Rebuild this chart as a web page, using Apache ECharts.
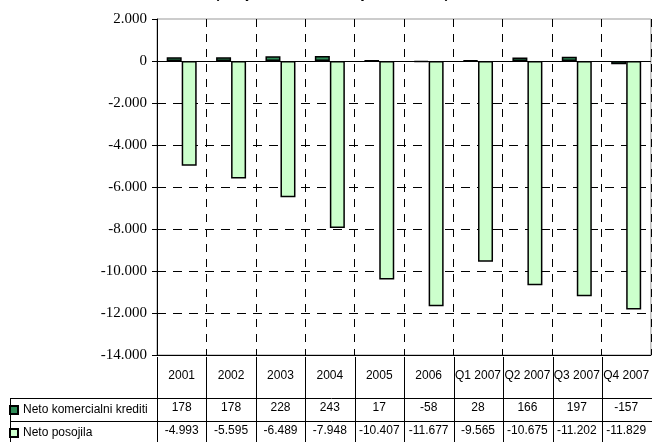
<!DOCTYPE html>
<html>
<head>
<meta charset="utf-8">
<script src="https://cdn.jsdelivr.net/npm/echarts@6/dist/echarts.min.js"></script>
<style>
html,body{margin:0;padding:0;background:#fff;}
#chart{width:652px;height:442px;}
</style>
</head>
<body>
<div id="chart"></div>
<script>
const categories = ['2001','2002','2003','2004','2005','2006','Q1 2007','Q2 2007','Q3 2007','Q4 2007'];
const seriesNames = ['Neto komercialni krediti','Neto posojila'];
const komercialni = [178, 178, 228, 243, 17, -58, 28, 166, 197, -157];
const posojila = [-4993, -5595, -6489, -7948, -10407, -11677, -9565, -10675, -11202, -11829];
const yTicks = {min: -14000, max: 2000, interval: 2000};
const titleText = '(stanje ob koncu obdobja, v mio EUR)';

function fmt(v) {
  const s = Math.abs(v).toString().replace(/\B(?=(\d{3})+(?!\d))/g, '.');
  return (v < 0 ? '-' : '') + s;
}

const chart = echarts.init(document.getElementById('chart'));
const sans = 'Liberation Sans, Arial, sans-serif';
const serif = 'Liberation Serif, Times New Roman, serif';

function legendFor(name, top) {
  return {
    orient: 'horizontal',
    left: 9,
    top: top,
    itemWidth: 8,
    itemHeight: 8,
    icon: 'rect',
    data: [name],
    padding: 0,
    textStyle: {fontFamily: sans, fontSize: 12, color: '#000', lineHeight: 14},
    selectedMode: false
  };
}

chart.setOption({
  animation: false,
  backgroundColor: '#fff',
  grid: [
    {left: 157, right: -3, top: 19, bottom: 85, show: true, borderColor: '#999', borderWidth: 1, backgroundColor: 'transparent'},
    {left: 157, right: -3, top: 357, bottom: -5}
  ],
  legend: [legendFor(seriesNames[0], 403), legendFor(seriesNames[1], 426)],
  xAxis: [
    {
      type: 'category',
      gridIndex: 0,
      data: categories,
      position: 'bottom',
      axisLine: {onZero: false, lineStyle: {color: '#000', width: 1}},
      axisTick: {show: false},
      splitLine: {show: true, interval: 0, lineStyle: {color: '#000', width: 1, type: [8, 7]}},
      axisLabel: {
        interval: 0,
        margin: 0,
        formatter: function (value, index) {
          return '{y|' + value + '}\n{a|' + fmt(komercialni[index]) + '}\n{b|' + fmt(posojila[index]) + '}';
        },
        rich: {
          y: {fontFamily: sans, fontSize: 12, color: '#000', lineHeight: 41, height: 41},
          a: {fontFamily: sans, fontSize: 12, color: '#000', lineHeight: 23, height: 23},
          b: {fontFamily: sans, fontSize: 12, color: '#000', lineHeight: 23, height: 23}
        }
      }
    },
    {
      type: 'category',
      gridIndex: 1,
      data: categories,
      axisLine: {show: false},
      axisTick: {show: false},
      axisLabel: {show: false},
      splitLine: {show: true, interval: 0, lineStyle: {color: '#000', width: 1, type: 'solid'}}
    }
  ],
  yAxis: [
    {
      type: 'value',
      gridIndex: 0,
      min: yTicks.min,
      max: yTicks.max,
      interval: yTicks.interval,
      axisLine: {show: true, lineStyle: {color: '#000', width: 1}},
      axisTick: {show: true, length: 5, lineStyle: {color: '#000'}},
      axisLabel: {margin: 10, fontFamily: serif, fontSize: 15, color: '#000', formatter: fmt},
      splitLine: {
        show: true,
        lineStyle: {
          color: ['transparent', '#000', '#000', '#000', '#000', '#000', '#000', 'transparent', 'transparent'],
          width: 1,
          type: [9, 7]
        }
      }
    },
    {
      type: 'value',
      gridIndex: 1,
      min: 0,
      max: 1,
      show: false
    }
  ],
  series: [
    {
      name: seriesNames[0],
      type: 'bar',
      xAxisIndex: 0,
      yAxisIndex: 0,
      data: komercialni,
      barWidth: 15,
      barGap: '0%',
      itemStyle: {color: '#2E8B57', borderColor: '#000', borderWidth: 1.5}
    },
    {
      name: seriesNames[1],
      type: 'bar',
      xAxisIndex: 0,
      yAxisIndex: 0,
      data: posojila,
      barWidth: 15,
      barGap: '0%',
      itemStyle: {color: '#CCFFCC', borderColor: '#000', borderWidth: 1.5},
      markLine: {
        silent: true,
        symbol: ['none', 'none'],
        label: {show: false},
        lineStyle: {color: '#000', width: 1, type: 'solid'},
        data: [{yAxis: 0}],
        z: 1
      }
    }
  ],
  graphic: [
    {type: 'line', silent: true, shape: {x1: 10, y1: 398.5, x2: 655, y2: 398.5}, style: {stroke: '#000', lineWidth: 1}},
    {type: 'line', silent: true, shape: {x1: 10, y1: 421.5, x2: 655, y2: 421.5}, style: {stroke: '#000', lineWidth: 1}},
    {type: 'line', silent: true, shape: {x1: 10.5, y1: 398, x2: 10.5, y2: 445}, style: {stroke: '#000', lineWidth: 1}},
    {type: 'line', silent: true, shape: {x1: 157.5, y1: 357, x2: 157.5, y2: 445}, style: {stroke: '#000', lineWidth: 1}},
    {type: 'text', silent: true, x: 332, y: 1, style: {text: titleText, fontFamily: sans, fontSize: 13, fontWeight: 'bold', fill: '#000', align: 'center', verticalAlign: 'bottom'}}
  ]
});
</script>
</body>
</html>
